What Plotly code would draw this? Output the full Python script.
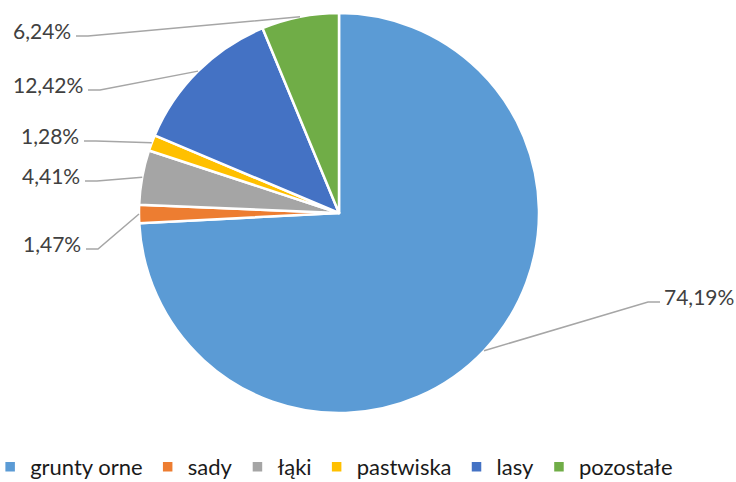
import math
import plotly.graph_objects as go

# land-use shares (percent)
categories = ["grunty orne", "sady", "łąki", "pastwiska", "lasy", "pozostałe"]
shares = [74.19, 1.47, 4.41, 1.28, 12.42, 6.24]
labels_txt = ["74,19%", "1,47%", "4,41%", "1,28%", "12,42%", "6,24%"]
colors = ["#5B9BD5", "#ED7D31", "#A5A5A5", "#FFC000", "#4472C4", "#70AD47"]

W, H = 736, 482
# pie geometry in pixels
cx, cy, r = 339, 213, 200

# label placement (pixel elbow of leader line, side of text)
label_elbow = [(648, 302), (98, 249), (97, 181), (96, 141), (100, 90), (88, 36)]
label_side = ["right", "left", "left", "left", "left", "left"]


def px(x):
    return x / W


def py(y):
    return 1 - y / H


fig = go.Figure()
fig.add_trace(go.Pie(
    labels=categories, values=shares, sort=False, direction="clockwise",
    rotation=0, textinfo="none", hoverinfo="label+percent",
    marker=dict(colors=colors, line=dict(color="white", width=2.5)),
    domain=dict(x=[px(cx - r), px(cx + r)], y=[py(cy + r), py(cy - r)]),
))

# leader lines + labels
total = sum(shares)
cum = 0
shapes, annotations = [], []
for i, v in enumerate(shares):
    mid = (cum + v / 2) / total * 2 * math.pi
    cum += v
    sx = cx + r * math.sin(mid)
    sy = cy - r * math.cos(mid)
    ex, ey = label_elbow[i]
    if label_side[i] == "left":
        tx = ex - 12
        anchor = "right"
        text_x = tx - 3
    else:
        tx = ex + 12
        anchor = "left"
        text_x = tx + 2
    path = f"M {px(sx)} {py(sy)} L {px(ex)} {py(ey)} L {px(tx)} {py(ey)}"
    shapes.append(dict(type="path", xref="paper", yref="paper", path=path,
                       line=dict(color="#A6A6A6", width=1.5)))
    annotations.append(dict(x=px(text_x), y=py(ey - 6), xref="paper", yref="paper",
                            text=labels_txt[i], showarrow=False, xanchor=anchor,
                            yanchor="middle",
                            font=dict(family="Lato", size=21, color="#404040")))

fig.update_layout(
    width=W, height=H, margin=dict(l=0, r=0, t=0, b=0, autoexpand=False),
    paper_bgcolor="white", plot_bgcolor="white",
    shapes=shapes, annotations=annotations,
    showlegend=True,
    legend=dict(orientation="h", x=0.454, xanchor="center", y=py(467),
                yanchor="middle", itemwidth=30, traceorder="normal",
                font=dict(family="Lato", size=22, color="#1a1a1a")),
)

# page body has a default margin; drop it so the figure sits at the window origin
fig.write_html("out.html", config={"displayModeBar": False},
               post_script="document.body.style.margin='0';")
